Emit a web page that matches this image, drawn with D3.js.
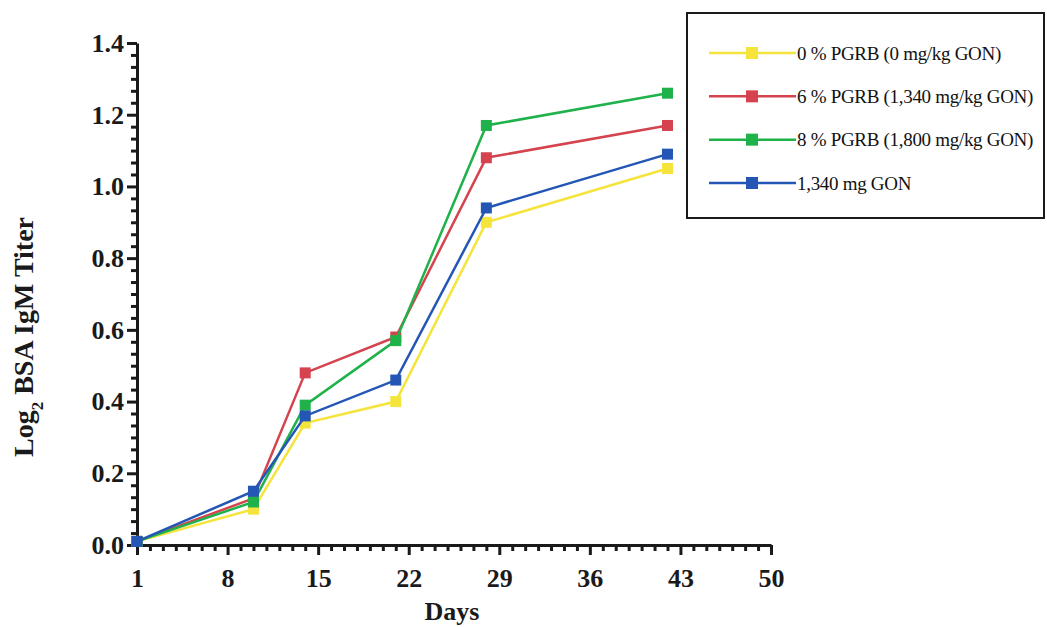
<!DOCTYPE html>
<html>
<head>
<meta charset="utf-8">
<script src="https://cdn.jsdelivr.net/npm/d3@7"></script>
<style>
  html, body { margin: 0; padding: 0; background: #fff; }
  svg { display: block; font-family: "Liberation Serif", "Times New Roman", serif; }
  .axis path, .axis line { stroke: #1a1a1a; stroke-width: 3; }
  .axis text { font-family: "Liberation Serif", "Times New Roman", serif; font-size: 26px; font-weight: bold; fill: #1a1a1a; }
  .legend text { font-size: 19px; fill: #111; }
</style>
</head>
<body>
<div id="chart"></div>
<script>
// sampling days
const days = [1, 10, 14, 21, 28, 42];

// series (Log2 BSA IgM titer)
const seriesNames = [
  '0 % PGRB (0 mg/kg GON)',
  '6 % PGRB (1,340 mg/kg GON)',
  '8 % PGRB (1,800 mg/kg GON)',
  '1,340 mg GON'
];
const pgrb0 = [0.01, 0.10, 0.34, 0.40, 0.90, 1.05];
const pgrb6 = [0.01, 0.13, 0.48, 0.58, 1.08, 1.17];
const pgrb8 = [0.01, 0.12, 0.39, 0.57, 1.17, 1.26];
const gon1340 = [0.01, 0.15, 0.36, 0.46, 0.94, 1.09];
const seriesColors = ['#f4e43c', '#d4434e', '#1fb24b', '#2457b5'];

const xTicks = [1, 8, 15, 22, 29, 36, 43, 50];
const yTicks = [0, 0.2, 0.4, 0.6, 0.8, 1.0, 1.2, 1.4];

const W = 1047, H = 627;
const svg = d3.select('#chart').append('svg').attr('width', W).attr('height', H);

const x = d3.scaleLinear().domain([1, 50]).range([137, 771]);
const y = d3.scaleLinear().domain([0, 1.4]).range([545, 43]);

// minor ticks
const xMinor = d3.range(1, 51).filter(d => !xTicks.includes(d));
const yMinor = d3.range(0, 42).map(i => i / 30).filter((d, i) => i % 6 !== 0);

svg.append('g').attr('class', 'axis')
  .attr('transform', 'translate(0,545)')
  .call(d3.axisBottom(x).tickValues(xMinor).tickSize(6).tickSizeOuter(0).tickFormat(''))
  .call(g => g.select('.domain').remove());
svg.append('g').attr('class', 'axis')
  .attr('transform', 'translate(137,0)')
  .call(d3.axisLeft(y).tickValues(yMinor).tickSize(6).tickSizeOuter(0).tickFormat(''))
  .call(g => g.select('.domain').remove());

svg.append('g').attr('class', 'axis')
  .attr('transform', 'translate(0,545)')
  .call(d3.axisBottom(x).tickValues(xTicks).tickSize(10).tickSizeOuter(0).tickPadding(14));
svg.append('g').attr('class', 'axis')
  .attr('transform', 'translate(137,0)')
  .call(d3.axisLeft(y).tickValues(yTicks).tickSize(10).tickSizeOuter(0).tickPadding(3).tickFormat(d3.format('.1f')));

// axis titles
svg.append('text')
  .attr('x', 452).attr('y', 620)
  .attr('text-anchor', 'middle')
  .attr('font-size', 26).attr('font-weight', 'bold').attr('fill', '#1a1a1a')
  .text('Days');

const yt = svg.append('text')
  .attr('transform', 'translate(33,337) rotate(-90)')
  .attr('text-anchor', 'middle')
  .attr('font-size', 28).attr('font-weight', 'bold').attr('fill', '#1a1a1a');
yt.append('tspan').text('Log');
yt.append('tspan').attr('font-size', 17).attr('dy', 10).text('2');
yt.append('tspan').attr('dy', -10).text(' BSA IgM Titer');

// lines and markers
const allSeries = [pgrb0, pgrb6, pgrb8, gon1340];
const line = d3.line().x((d, i) => x(days[i])).y(d => y(d));

allSeries.forEach((vals, k) => {
  const g = svg.append('g');
  g.append('path')
    .attr('d', line(vals))
    .attr('fill', 'none')
    .attr('stroke', seriesColors[k])
    .attr('stroke-width', 2.5);
  g.selectAll('rect').data(vals).join('rect')
    .attr('x', (d, i) => x(days[i]) - 5.5)
    .attr('y', d => y(d) - 5.5)
    .attr('width', 11).attr('height', 11)
    .attr('fill', seriesColors[k]);
});

// legend
const legend = svg.append('g').attr('class', 'legend');
legend.append('rect')
  .attr('x', 687).attr('y', 13).attr('width', 357).attr('height', 205)
  .attr('fill', '#fff').attr('stroke', '#1a1a1a').attr('stroke-width', 2);

const legY = d3.scalePoint().domain(seriesNames).range([53, 183]);
seriesNames.forEach((name, k) => {
  const row = legend.append('g').attr('transform', `translate(0,${legY(name)})`);
  row.append('line').attr('x1', 709).attr('x2', 796).attr('y1', 0).attr('y2', 0)
    .attr('stroke', seriesColors[k]).attr('stroke-width', 2.5);
  row.append('rect').attr('x', 746).attr('y', -6).attr('width', 12).attr('height', 12)
    .attr('fill', seriesColors[k]);
  row.append('text').attr('x', 797).attr('y', 6.5).attr('letter-spacing', -0.3).text(name);
});
</script>
</body>
</html>
